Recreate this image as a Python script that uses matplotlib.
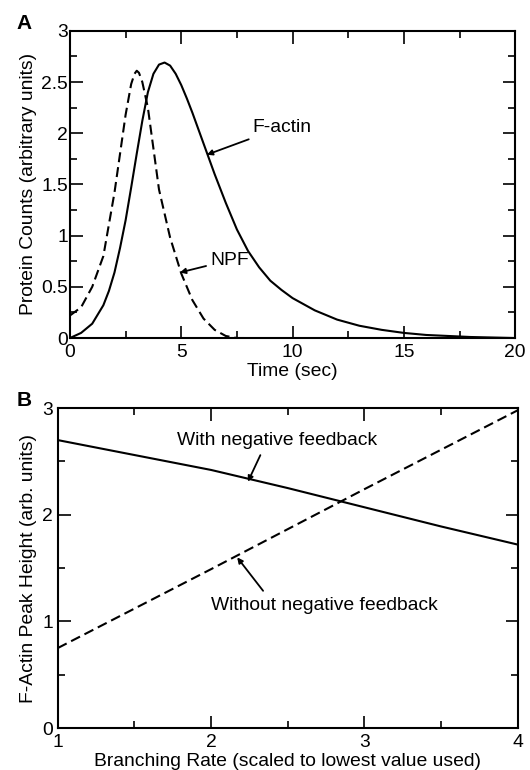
import matplotlib
matplotlib.use('Agg')

import numpy as np
import matplotlib.pyplot as plt
from matplotlib.ticker import MultipleLocator

plt.rcParams['font.family'] = ['Liberation Sans', 'DejaVu Sans']

# panel A: time courses
t_actin = [0, 0.5, 1, 1.5, 1.75, 2, 2.25, 2.5, 2.75, 3, 3.25, 3.5, 3.75, 4,
           4.25, 4.5, 4.75, 5, 5.25, 5.5, 6, 6.5, 7, 7.5, 8, 8.5, 9, 9.5, 10,
           11, 12, 13, 14, 15, 16, 17, 18, 20]
f_actin = [0, 0.05, 0.14, 0.32, 0.46, 0.64, 0.88, 1.15, 1.47, 1.8, 2.12, 2.4,
           2.58, 2.67, 2.69, 2.66, 2.58, 2.47, 2.34, 2.2, 1.9, 1.6, 1.32, 1.06,
           0.85, 0.69, 0.56, 0.47, 0.39, 0.27, 0.18, 0.12, 0.08, 0.05, 0.03,
           0.02, 0.01, 0.0]
t_npf = [0, 0.5, 1, 1.5, 2, 2.25, 2.5, 2.75, 2.9, 3, 3.1, 3.25, 3.5, 3.75, 4,
         4.5, 5, 5.5, 6, 6.5, 7, 7.5, 8]
npf = [0.22, 0.3, 0.5, 0.8, 1.42, 1.8, 2.18, 2.48, 2.58, 2.61, 2.59, 2.5, 2.25,
       1.85, 1.45, 0.98, 0.63, 0.37, 0.19, 0.08, 0.02, 0.0, 0.0]

# panel B: peak height vs branching rate
rate = [1, 1.5, 2, 2.5, 3, 3.5, 4]
with_fb = [2.7, 2.56, 2.42, 2.25, 2.07, 1.89, 1.72]
rate_nofb = [1, 2, 3, 4]
without_fb = [0.75, 1.49, 2.24, 2.98]

FS = 13.9
dash = (4.8, 2.4)


def style(ax, pad_y):
    for s in ax.spines.values():
        s.set_linewidth(1.5)
    ax.tick_params(which='both', direction='in', top=True, right=True,
                   labelsize=FS, width=1.2)
    ax.tick_params(which='major', length=9)
    ax.tick_params(which='minor', length=5)
    ax.tick_params(axis='x', pad=4)
    ax.tick_params(axis='y', pad=pad_y)


arrow = dict(arrowstyle='-|>', color='black', lw=1.3, mutation_scale=8,
             shrinkB=0)

fig = plt.figure(figsize=(5.3, 7.7), dpi=100)

# ---- A
ax1 = fig.add_axes([0.132, 0.561, 0.840, 0.399])
ax1.plot(t_actin, f_actin, color='black', lw=1.5)
ax1.plot(t_npf, npf, color='black', lw=1.5, dashes=dash)
ax1.set_xlim(0, 20)
ax1.set_ylim(0, 3)
ax1.xaxis.set_major_locator(MultipleLocator(5))
ax1.xaxis.set_minor_locator(MultipleLocator(2.5))
ax1.yaxis.set_major_locator(MultipleLocator(0.5))
ax1.yaxis.set_minor_locator(MultipleLocator(0.25))
ax1.yaxis.set_major_formatter(plt.FuncFormatter(lambda v, p: '%g' % v))
style(ax1, 1.5)
ax1.set_xlabel('Time (sec)', fontsize=FS, labelpad=2)
ax1.set_ylabel('Protein Counts (arbitrary units)', fontsize=FS, labelpad=3)
ax1.annotate('F-actin', xy=(6.15, 1.79), xytext=(8.2, 2.06), fontsize=FS,
             va='center', ha='left', arrowprops=dict(arrow, shrinkA=2))
ax1.annotate('NPF', xy=(4.94, 0.64), xytext=(6.3, 0.76), fontsize=FS,
             va='center', ha='left', arrowprops=dict(arrow, shrinkA=1))

# ---- B
ax2 = fig.add_axes([0.109, 0.0545, 0.868, 0.4155])
ax2.plot(rate, with_fb, color='black', lw=1.5)
ax2.plot(rate_nofb, without_fb, color='black', lw=1.5, dashes=dash)
ax2.set_xlim(1, 4)
ax2.set_ylim(0, 3)
ax2.xaxis.set_major_locator(MultipleLocator(1))
ax2.xaxis.set_minor_locator(MultipleLocator(0.5))
ax2.yaxis.set_major_locator(MultipleLocator(1))
ax2.yaxis.set_minor_locator(MultipleLocator(0.5))
style(ax2, 3.5)
ax2.set_xlabel('Branching Rate (scaled to lowest value used)', fontsize=FS,
               labelpad=2)
ax2.set_ylabel('F-Actin Peak Height (arb. units)', fontsize=FS, labelpad=4)
ax2.annotate('With negative feedback', xy=(2.24, 2.31), xytext=(1.78, 2.70),
             fontsize=FS, va='center', ha='left',
             arrowprops=dict(arrow, shrinkA=3, relpos=(0.43, 0)))
ax2.annotate('Without negative feedback', xy=(2.17, 1.60), xytext=(2.0, 1.15),
             fontsize=FS, va='center', ha='left',
             arrowprops=dict(arrow, shrinkA=3, relpos=(0.25, 1)))

fig.text(0.032, 0.969, 'A', fontsize=15, fontweight='bold', va='center')
fig.text(0.032, 0.480, 'B', fontsize=15, fontweight='bold', va='center')

plt.savefig('out.png', dpi=100)
